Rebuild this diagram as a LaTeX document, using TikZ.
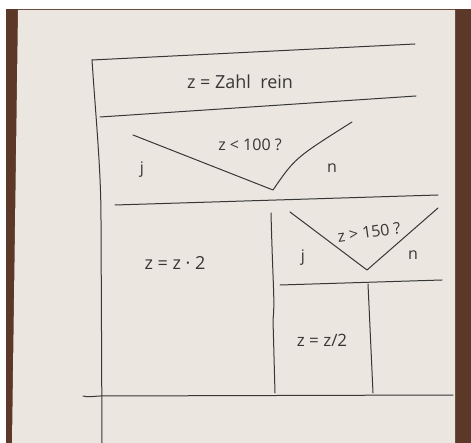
\documentclass[tikz,border=0pt]{standalone}
\usepackage{fontspec}
\setmainfont{Open Sans}
\usepackage{tikz}
\definecolor{ink}{RGB}{55, 55, 55}
\definecolor{paper}{RGB}{235, 230, 223}
\definecolor{wood}{RGB}{92, 56, 40}

\begin{document}
\begin{tikzpicture}[x=1pt, y=-1pt,
    pen/.style={ink, line width=1pt, line cap=round, line join=round},
    hand/.style={ink, font=\fontsize{16}{18}\selectfont, inner sep=0pt}]
    \useasboundingbox (0,0) rectangle (471,443);
    % photo background: wood and sheet
    \fill[white] (0,0) rectangle (471,443);
    \fill[wood] (6,9) rectangle (471,443);
    \fill[paper] (18,10) -- (455,10) -- (455,443) -- (12,443) -- cycle;
    % corners of the diagram
    \coordinate (tl) at (92,60);
    \coordinate (tr) at (415,44);
    \coordinate (al) at (100,117);
    \coordinate (ar) at (416,96);
    \coordinate (bl) at (115,205);
    \coordinate (br) at (438,195);
    \coordinate (fl) at (83,396);
    \coordinate (fr) at (453,395);
    % frame
    \draw[pen] (tl) -- (tr);
    \draw[pen] (tl) .. controls (96,120) and (101,170) .. (101,220) -- (102,443);
    \draw[pen] (al) -- (ar);
    \draw[pen] (bl) -- (br);
    \draw[pen] (fl) .. controls (86,397) .. (100,396) -- (fr);
    \node[hand, font=\fontsize{18}{20}\selectfont] (input) at (240,82) {z = Zahl\ \ rein};
    % first decision
    \coordinate (va) at (133,135);
    \coordinate (vb) at (273,190);
    \coordinate (vc) at (352,122);
    \draw[pen] (va) -- (vb) .. controls (295,158) .. (vc);
    \node[hand] (cond1) at (250,145) {z < 100 ?};
    \node[hand] (yes1) at (142,170) {j};
    \node[hand] (no1) at (332,168) {n};
    \node[hand, font=\fontsize{18}{20}\selectfont] (double) at (175,263) {z = z · 2};
    % split of the branches
    \coordinate (sa) at (271,213);
    \coordinate (sb) at (275,393);
    \draw[pen] (sa) .. controls (273,290) and (275,300) .. (273,320) -- (sb);
    % second decision
    \coordinate (wa) at (290,212);
    \coordinate (wb) at (367,270);
    \coordinate (wc) at (438,208);
    \draw[pen] (wa) -- (wb) -- (wc);
    \node[hand, rotate=8] (cond2) at (369,232) {z > 150 ?};
    \node[hand] (yes2) at (303,258) {j};
    \node[hand] (no2) at (413,255) {n};
    \coordinate (ca) at (280,285);
    \coordinate (cb) at (442,280);
    \draw[pen] (ca) -- (cb);
    \coordinate (da) at (368,284);
    \coordinate (db) at (373,393);
    \draw[pen] (da) -- (db);
    \node[hand, font=\fontsize{17}{19}\selectfont] (half) at (322,340) {z = z/2};
\end{tikzpicture}
\end{document}
